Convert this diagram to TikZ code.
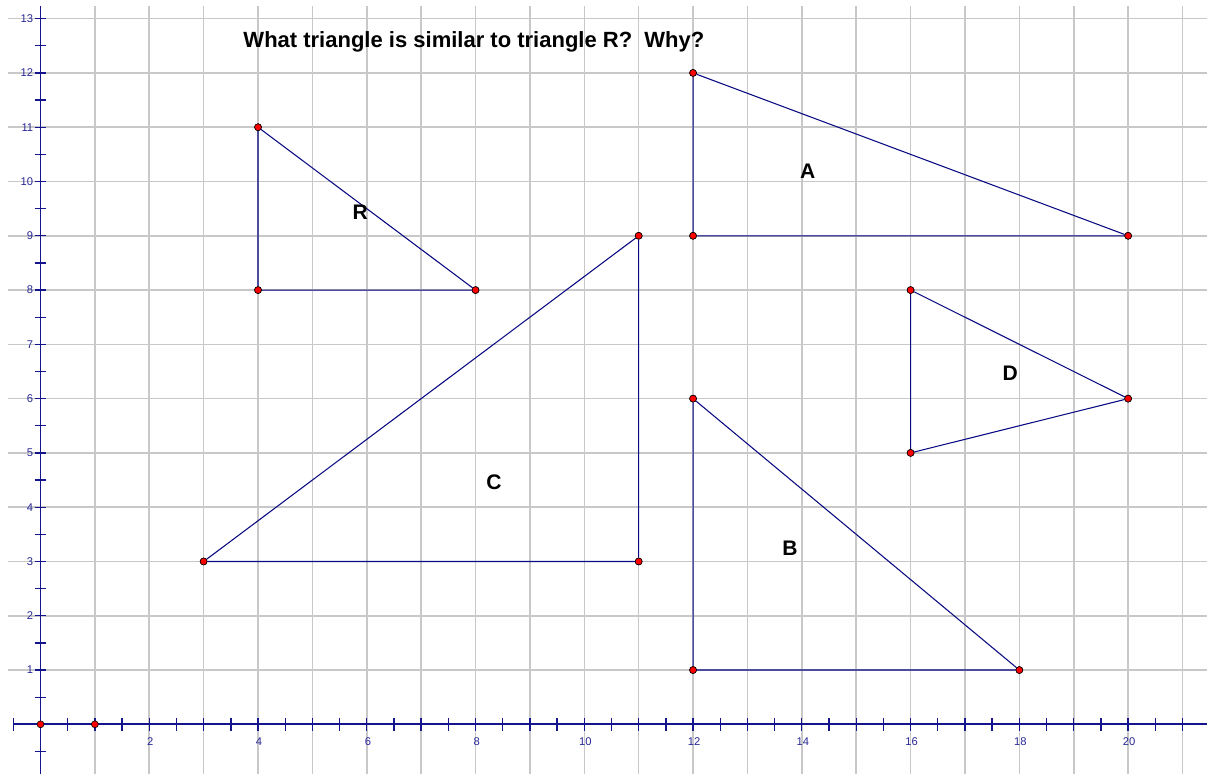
\documentclass[tikz,border=0pt]{standalone}
\usepackage{fontspec}
\setmainfont{Liberation Sans}
\begin{document}
\begin{tikzpicture}[x=40.785pt,y=40.71pt,
  gridline/.style={draw={rgb,255:red,200;green,200;blue,200},line width=1.2pt},
  axisline/.style={draw={rgb,255:red,20;green,20;blue,140},line width=1.3pt},
  tickline/.style={draw={rgb,255:red,20;green,20;blue,140},line width=1pt},
  triline/.style={draw={rgb,255:red,10;green,10;blue,130},line width=0.8pt},
  axlabel/.style={text={rgb,255:red,40;green,40;blue,150},font=\fontsize{8.4}{10}\selectfont,inner sep=0pt},
  trilabel/.style={font=\fontsize{15.8}{18}\selectfont\bfseries,inner sep=0pt},
  titlelabel/.style={font=\fontsize{16.5}{19}\selectfont\bfseries,inner sep=0pt},
  vertex/.style={circle,fill=red,draw=black,line width=0.45pt,inner sep=0pt,minimum size=5.2pt}]
\useasboundingbox (-0.7448,-0.9156) rectangle (21.451,13.344);
% grid
\foreach \i in {1,2,...,21} {\draw[gridline] (\i,-0.9156) -- (\i,13.233);}
\foreach \j in {1,2,...,13} {\draw[gridline] (-0.598,\j) -- (21.451,\j);}
% axes
\draw[axisline] (-0.5,0) -- (21.451,0);
\draw[axisline] (0,-0.9156) -- (0,13.233);
\foreach \k in {-0.5,0,...,21} {\draw[tickline] (\k,-0.12) -- (\k,0.12);}
\foreach \k in {-0.5,0,...,13} {\draw[tickline] (-0.11,\k) -- (0.11,\k);}
\foreach \j in {1,...,13} {\node[axlabel,anchor=east] (yl\j) at (-0.13,\j) {\j};}
\foreach \i in {2,4,...,20} {\node[axlabel] (xl\i) at (\i+0.02,-0.326) {\i};}
% title
\node[titlelabel,anchor=base] (title) at (7.97,12.46) {What triangle is similar to triangle R?\ \ Why?};
% triangle R
\node[vertex] (r1) at (4,11) {};
\node[vertex] (r2) at (4,8) {};
\node[vertex] (r3) at (8,8) {};
\draw[triline] (r1) -- (r2) -- (r3) -- (r1);
% triangle A
\node[vertex] (a1) at (12,12) {};
\node[vertex] (a2) at (12,9) {};
\node[vertex] (a3) at (20,9) {};
\draw[triline] (a1) -- (a2) -- (a3) -- (a1);
% triangle C
\node[vertex] (c1) at (3,3) {};
\node[vertex] (c2) at (11,9) {};
\node[vertex] (c3) at (11,3) {};
\draw[triline] (c1) -- (c2) -- (c3) -- (c1);
% triangle B
\node[vertex] (b1) at (12,6) {};
\node[vertex] (b2) at (12,1) {};
\node[vertex] (b3) at (18,1) {};
\draw[triline] (b1) -- (b2) -- (b3) -- (b1);
% triangle D
\node[vertex] (d1) at (16,8) {};
\node[vertex] (d2) at (16,5) {};
\node[vertex] (d3) at (20,6) {};
\draw[triline] (d1) -- (d2) -- (d3) -- (d1);
% vertices on top
\foreach \p in {r1,r2,r3,a1,a2,a3,c1,c2,c3,b1,b2,b3,d1,d2,d3}
  {\fill[red,draw=black,line width=0.45pt] (\p) circle[radius=2.6pt];}
% axis points
\node[vertex] (o) at (0,0) {};
\node[vertex] (u) at (1,0) {};
% labels
\node[trilabel] (lR) at (5.88,9.425) {R};
\node[trilabel] (lA) at (14.11,10.19) {A};
\node[trilabel] (lC) at (8.34,4.464) {C};
\node[trilabel] (lB) at (13.78,3.248) {B};
\node[trilabel] (lD) at (17.83,6.472) {D};
\end{tikzpicture}
\end{document}
